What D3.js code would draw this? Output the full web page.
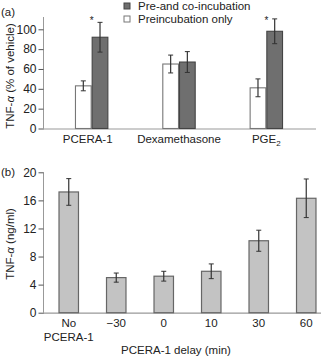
<!DOCTYPE html>
<html><head><meta charset="utf-8">
<script src="https://cdn.jsdelivr.net/npm/d3@7"></script>
<style>
body{margin:0;background:#fff;}
text{font-family:"Liberation Sans",Arial,Helvetica,sans-serif;fill:#222;}
</style></head>
<body>
<svg id="c" width="330" height="357"></svg>
<script>
// Panel (a)
const catsA = ["PCERA-1","Dexamethasone","PGE2"];
const seriesA = ["Preincubation only","Pre-and co-incubation"];
const preOnly = [43, 65, 41];
const preOnlyErr = [5, 9, 9];
const preCo = [92, 67, 98];
const preCoErr = [15, 10.5, 12.5];
const sigA = [true, false, true];
const ticksA = [0,20,40,60,80,100];

// Panel (b)
const catsB = ["No PCERA-1","\u221230","0","10","30","60"];
const valsB = [17.2, 5.0, 5.2, 5.9, 10.25, 16.3];
const errB = [1.9, 0.65, 0.7, 1.05, 1.5, 2.75];
const ticksB = [0,4,8,12,16,20];

const svg = d3.select("#c");
const axisCol = "#999";

// ---------- Panel (a) ----------
const ya = d3.scaleLinear().domain([0,100]).range([128.5,29.3]);
const xa = d3.scaleBand().domain(catsA).range([48,310]);
const xs = d3.scaleBand().domain(seriesA).range([-16.7,16.7]);
const ga = svg.append("g");

ga.append("line").attr("x1",43.5).attr("x2",43.5).attr("y1",ya(0)).attr("y2",17).attr("stroke",axisCol);
ga.append("line").attr("x1",43).attr("x2",316).attr("y1",ya(0)+0.5).attr("y2",ya(0)+0.5).attr("stroke",axisCol).attr("stroke-width",1.2);
const yAxA = d3.axisLeft(ya).tickValues(ticksA).tickSize(5).tickPadding(2);
const gyA = ga.append("g").attr("transform","translate(43.5,0)").call(yAxA);
gyA.select(".domain").remove();
gyA.selectAll("line").attr("stroke","#555");
gyA.selectAll("text").attr("font-size","12px").attr("fill","#222").attr("font-family","Liberation Sans, Arial, sans-serif");

const rowsA = catsA.map((c,i)=>[
  {cat:c, s:seriesA[0], v:preOnly[i], e:preOnlyErr[i]},
  {cat:c, s:seriesA[1], v:preCo[i], e:preCoErr[i]}
]).flat();
const colA = d3.scaleOrdinal().domain(seriesA).range(["#ffffff","#6f6f6f"]);
const strA = d3.scaleOrdinal().domain(seriesA).range(["#777","#444"]);
const cx = d => xa(d.cat)+xa.bandwidth()/2 + xs(d.s);
ga.selectAll("rect.a").data(rowsA).join("rect")
  .attr("x",d=>cx(d)+0.5).attr("y",d=>ya(d.v)).attr("width",xs.bandwidth()-1)
  .attr("height",d=>ya(0)-ya(d.v)).attr("fill",d=>colA(d.s)).attr("stroke",d=>strA(d.s)).attr("stroke-width",1.1);
const ebA = ga.selectAll("g.eb").data(rowsA).join("g");
ebA.append("line").attr("x1",d=>cx(d)+xs.bandwidth()/2).attr("x2",d=>cx(d)+xs.bandwidth()/2)
  .attr("y1",d=>ya(d.v+d.e)).attr("y2",d=>ya(d.v-d.e)).attr("stroke","#333").attr("stroke-width",1.2);
ebA.append("line").attr("x1",d=>cx(d)+xs.bandwidth()/2-2.5).attr("x2",d=>cx(d)+xs.bandwidth()/2+2.5)
  .attr("y1",d=>ya(d.v+d.e)).attr("y2",d=>ya(d.v+d.e)).attr("stroke","#333");
ebA.append("line").attr("x1",d=>cx(d)+xs.bandwidth()/2-2.5).attr("x2",d=>cx(d)+xs.bandwidth()/2+2.5)
  .attr("y1",d=>ya(d.v-d.e)).attr("y2",d=>ya(d.v-d.e)).attr("stroke","#333");
ga.selectAll("text.star").data(catsA.filter((c,i)=>sigA[i])).join("text")
  .attr("x",c=>xa(c)+xa.bandwidth()/2).attr("y",24).attr("text-anchor","middle")
  .attr("font-size","10px").text("*");
const labA = ga.selectAll("text.cat").data(catsA).join("text")
  .attr("x",c=>xa(c)+xa.bandwidth()/2 - (c==="PCERA-1"?4:0)).attr("y",143).attr("text-anchor","middle").attr("font-size","11.5px");
labA.each(function(c){
  const t = d3.select(this);
  if(c==="PGE2"){ t.append("tspan").text("PGE"); t.append("tspan").attr("font-size","8px").attr("dy",3).text("2"); }
  else t.text(c);
});
const ytA = ga.append("text").attr("transform","translate(14,76) rotate(-90)").attr("text-anchor","middle").attr("font-size","11.5px");
ytA.append("tspan").text("TNF-");
ytA.append("tspan").attr("font-style","italic").text("\u03b1");
ytA.append("tspan").text(" (% of vehicle)");
ga.append("text").attr("x",1).attr("y",16).attr("font-size","11.5px").text("(a)");
const leg = ga.selectAll("g.leg").data([seriesA[1],seriesA[0]]).join("g")
  .attr("transform",(d,i)=>`translate(124,${6+i*13})`);
leg.append("rect").attr("x",0).attr("y",-3).attr("width",6).attr("height",6)
  .attr("fill",d=>colA(d)).attr("stroke",d=>strA(d));
leg.append("text").attr("x",14).attr("y",4).attr("font-size","11.5px").text(d=>d);

// ---------- Panel (b) ----------
const yb = d3.scaleLinear().domain([0,20]).range([312.7,172.3]);
const xb = d3.scaleBand().domain(catsB).range([45,330]).paddingInner(0.59).paddingOuter(0.295);
const gb = svg.append("g");
gb.append("line").attr("x1",43.5).attr("x2",43.5).attr("y1",yb(0)).attr("y2",yb(20)).attr("stroke",axisCol);
gb.append("line").attr("x1",43).attr("x2",321).attr("y1",yb(0)+0.5).attr("y2",yb(0)+0.5).attr("stroke",axisCol).attr("stroke-width",1.2);
const gyB = gb.append("g").attr("transform","translate(43.5,0)").call(d3.axisLeft(yb).tickValues(ticksB).tickSize(5).tickPadding(2));
gyB.select(".domain").remove();
gyB.selectAll("line").attr("stroke","#555");
gyB.selectAll("text").attr("font-size","12px").attr("fill","#222").attr("font-family","Liberation Sans, Arial, sans-serif");

const rowsB = catsB.map((c,i)=>({c, v:valsB[i], e:errB[i]}));
gb.selectAll("rect.b").data(rowsB).join("rect")
  .attr("x",d=>xb(d.c)).attr("y",d=>yb(d.v)).attr("width",xb.bandwidth())
  .attr("height",d=>yb(0)-yb(d.v)).attr("fill","#c3c3c3").attr("stroke","#666").attr("stroke-width",1.2);
const ebB = gb.selectAll("g.ebb").data(rowsB).join("g");
const mx = d => xb(d.c)+xb.bandwidth()/2;
ebB.append("line").attr("x1",mx).attr("x2",mx).attr("y1",d=>yb(d.v+d.e)).attr("y2",d=>yb(d.v-d.e)).attr("stroke","#333").attr("stroke-width",1.2);
ebB.append("line").attr("x1",d=>mx(d)-2.5).attr("x2",d=>mx(d)+2.5).attr("y1",d=>yb(d.v+d.e)).attr("y2",d=>yb(d.v+d.e)).attr("stroke","#333");
ebB.append("line").attr("x1",d=>mx(d)-2.5).attr("x2",d=>mx(d)+2.5).attr("y1",d=>yb(d.v-d.e)).attr("y2",d=>yb(d.v-d.e)).attr("stroke","#333");
const labB = gb.selectAll("text.catb").data(catsB).join("text")
  .attr("x",c=>xb(c)+xb.bandwidth()/2).attr("y",327).attr("text-anchor","middle").attr("font-size","11.5px");
labB.each(function(c){
  const t = d3.select(this);
  const parts = c.startsWith("No ") ? ["No", c.slice(3)] : [c];
  parts.forEach((p,k)=>t.append("tspan").attr("x",xb(c)+xb.bandwidth()/2).attr("dy",k?13.5:0).text(p));
});
gb.append("text").attr("x",176).attr("y",354).attr("text-anchor","middle").attr("font-size","11.5px").text("PCERA-1 delay (min)");
const ytB = gb.append("text").attr("transform","translate(14,244) rotate(-90)").attr("text-anchor","middle").attr("font-size","11.5px");
ytB.append("tspan").text("TNF-");
ytB.append("tspan").attr("font-style","italic").text("\u03b1");
ytB.append("tspan").text(" (ng/ml)");
gb.append("text").attr("x",1).attr("y",176).attr("font-size","11.5px").text("(b)");
</script>
</body></html>
